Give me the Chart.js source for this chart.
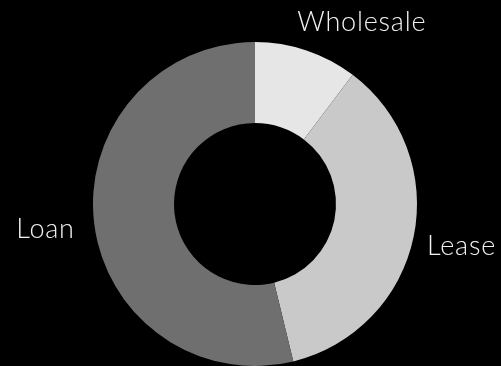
<!DOCTYPE html>
<html>
<head>
<meta charset="utf-8">
<script src="https://cdn.jsdelivr.net/npm/chart.js@4/dist/chart.umd.min.js"></script>
<style>
    html, body { margin: 0; padding: 0; background: #000; }
    #wrap { width: 501px; height: 366px; position: relative; }
</style>
</head>
<body>
<div id="wrap"><canvas id="chart1"></canvas></div>
<script>
// loan portfolio split
var categories = ['Wholesale', 'Lease', 'Loan'];
var shares = [10.3, 35.9, 53.8];
var sliceColors = ['#e6e6e6', '#c9c9c9', '#6f6f6f'];

// draws each category name on a ring outside its slice,
// sliding it round the ring when it would leave the canvas
var outerLabels = {
    id: 'outerLabels',
    afterDatasetsDraw: function(chart, args, opts) {
        var ctx = chart.ctx;
        var meta = chart.getDatasetMeta(0);
        ctx.save();
        ctx.font = opts.font;
        ctx.letterSpacing = opts.spacing;
        ctx.fillStyle = opts.color;
        ctx.textAlign = 'center';
        ctx.textBaseline = 'middle';
        meta.data.forEach(function(arc, i) {
            var p = arc.getProps(['x', 'y', 'startAngle', 'endAngle', 'outerRadius'], true);
            var mid = (p.startAngle + p.endAngle) / 2;
            var r = p.outerRadius + opts.offset;
            var dx = Math.cos(mid) * r;
            var dy = Math.sin(mid) * r;
            var minY = opts.edge - p.y;
            var maxY = chart.height - opts.edge - p.y;
            if (dy < minY || dy > maxY) {
                dy = dy < minY ? minY : maxY;
                dx = (dx < 0 ? -1 : 1) * Math.sqrt(r * r - dy * dy);
            }
            ctx.fillText(chart.data.labels[i], p.x + dx, p.y + dy);
        });
        ctx.restore();
    }
};

var ctx = document.getElementById('chart1');
var myChart = new Chart(ctx, {
    type: 'doughnut',
    data: {
        labels: categories,
        datasets: [{
            data: shares,
            backgroundColor: sliceColors,
            borderWidth: 0
        }]
    },
    options: {
        responsive: true,
        maintainAspectRatio: false,
        animation: false,
        cutout: '50%',
        layout: {
            padding: { top: 42, bottom: 0, left: 60, right: 51 }
        },
        plugins: {
            legend: { display: false },
            tooltip: { enabled: false },
            outerLabels: {
                font: '300 27px Lato, "Open Sans", sans-serif',
                spacing: '0.8px',
                color: '#f2f2f2',
                offset: 49,
                edge: 22
            }
        }
    },
    plugins: [outerLabels]
});
</script>
</body>
</html>
